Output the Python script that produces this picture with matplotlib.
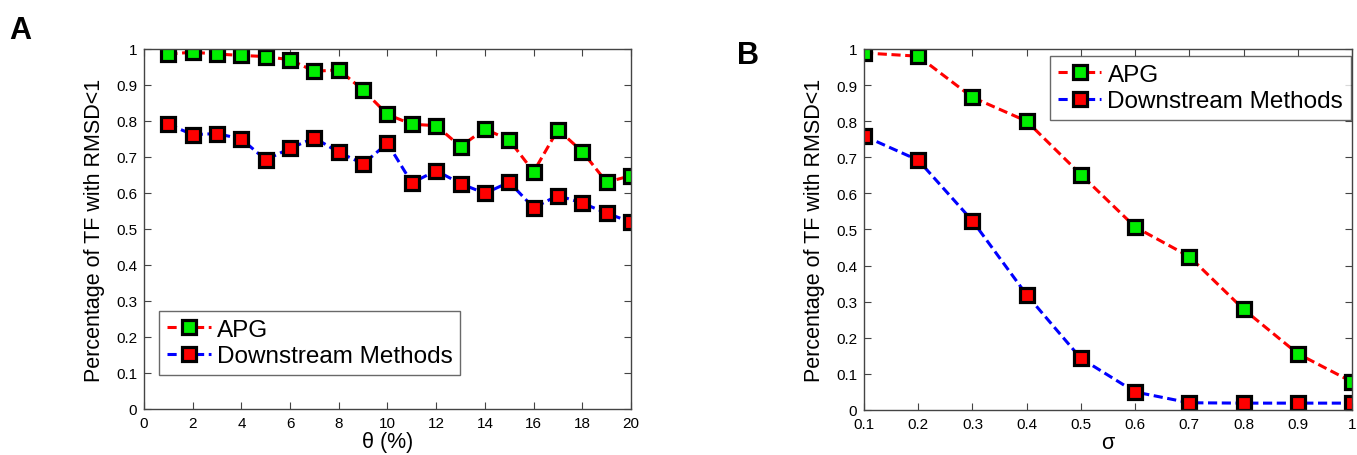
import matplotlib
matplotlib.use("Agg")
import matplotlib.pyplot as plt
import numpy as np

plt.rcParams['font.family'] = ['Liberation Sans', 'DejaVu Sans']

# Panel A data
theta = list(range(1, 21))
apg_a = [0.986, 0.991, 0.986, 0.982, 0.979, 0.970, 0.938, 0.942, 0.886, 0.818,
         0.791, 0.787, 0.729, 0.778, 0.747, 0.659, 0.776, 0.715, 0.630, 0.648]
down_a = [0.791, 0.762, 0.765, 0.750, 0.692, 0.724, 0.753, 0.713, 0.681, 0.738,
          0.628, 0.662, 0.626, 0.599, 0.630, 0.559, 0.593, 0.572, 0.544, 0.519]

# Panel B data
sigma = [0.1, 0.2, 0.3, 0.4, 0.5, 0.6, 0.7, 0.8, 0.9, 1.0]
apg_b = [0.989, 0.980, 0.866, 0.800, 0.652, 0.507, 0.425, 0.279, 0.156, 0.078]
down_b = [0.759, 0.692, 0.524, 0.319, 0.143, 0.050, 0.020, 0.019, 0.019, 0.019]

xticks_a = list(range(0, 21, 2))
xticks_b = sigma
yticks = [0, 0.1, 0.2, 0.3, 0.4, 0.5, 0.6, 0.7, 0.8, 0.9, 1.0]
ylabels = ['0', '0.1', '0.2', '0.3', '0.4', '0.5', '0.6', '0.7', '0.8', '0.9', '1']
xlabels_b = ['0.1', '0.2', '0.3', '0.4', '0.5', '0.6', '0.7', '0.8', '0.9', '1']

fig = plt.figure(figsize=(13.57, 4.56), dpi=100)
axA = fig.add_axes([0.1061, 0.1009, 0.3589, 0.7895])
axB = fig.add_axes([0.6367, 0.0987, 0.3596, 0.7917])

style = dict(marker='s', markersize=10.5, markeredgewidth=2.3, markeredgecolor='black',
             linestyle=(0, (3, 1.5)), linewidth=2.2)

for ax, x, a, d in [(axA, theta, apg_a, down_a), (axB, sigma, apg_b, down_b)]:
    ax.plot(x, a, color='red', markerfacecolor='#00ee00', label='APG', **style)
    ax.plot(x, d, color='blue', markerfacecolor='red', label='Downstream Methods', **style)
    ax.set_ylim(0, 1)
    ax.set_yticks(yticks)
    ax.set_yticklabels(ylabels)
    ax.tick_params(direction='in', top=True, right=True, labelsize=11, length=5,
                   color='#444444', pad=5)
    for s in ax.spines.values():
        s.set_color('#444444')
        s.set_linewidth(1.0)
    ax.set_ylabel('Percentage of TF with RMSD<1', fontsize=15.5, labelpad=8)

axA.set_xlim(0, 20)
axA.set_xticks(xticks_a)
axA.set_xlabel('θ (%)', fontsize=15.5, labelpad=1)
axB.set_xlim(0.1, 1.0)
axB.set_xticks(xticks_b)
axB.set_xticklabels(xlabels_b)
axB.set_xlabel('σ', fontsize=15.5, labelpad=1)

legkw = dict(fontsize=17.5, numpoints=1, frameon=True, fancybox=False, edgecolor='#444444',
             handlelength=1.8, borderpad=0.32, labelspacing=0.18, handletextpad=0.25,
             borderaxespad=0)
legA = axA.legend(loc='lower left', bbox_to_anchor=(0.031, 0.094), **legkw)
legB = axB.legend(loc='upper right', bbox_to_anchor=(0.998, 0.98), **legkw)
for leg in (legA, legB):
    leg.get_frame().set_linewidth(1.0)

fig.text(0.007, 0.915, 'A', fontsize=22, fontweight='bold')
fig.text(0.543, 0.86, 'B', fontsize=22, fontweight='bold')

fig.savefig('out.png', dpi=100)
